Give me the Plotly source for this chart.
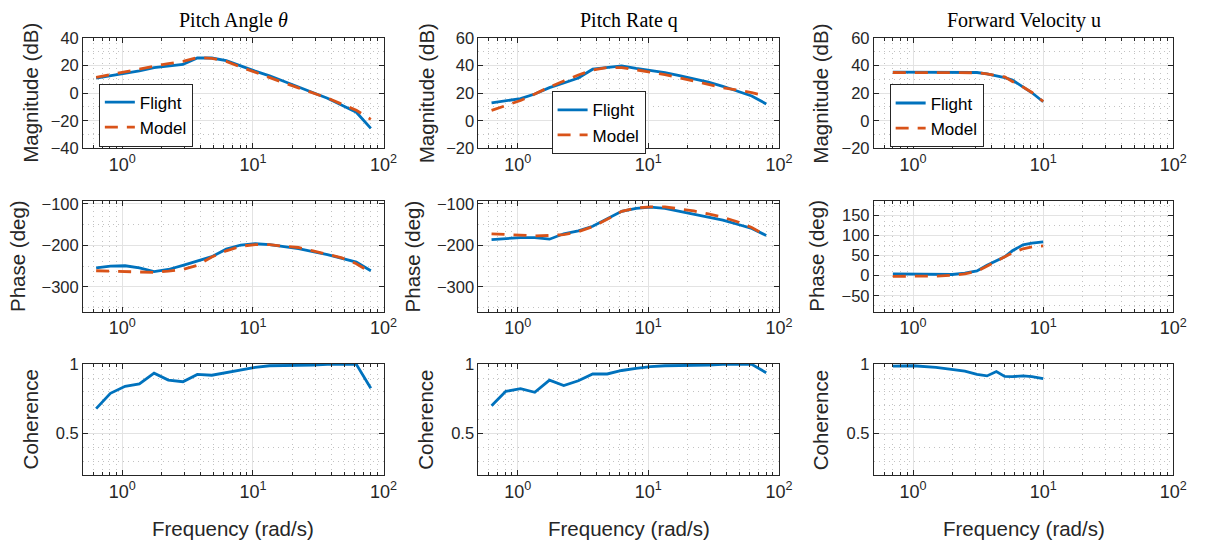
import math
import plotly.graph_objects as go
from plotly.subplots import make_subplots

# ---------------- data ----------------
freq_pitch = [0.63, 0.81, 1.05, 1.35, 1.75, 2.25, 2.91, 3.75, 4.84, 6.25,
              8.06, 10.4, 13.4, 17.3, 22.3, 28.8, 37.2, 48.0, 61.9, 79.9]

theta_mag_flight = [11.0, 12.6, 14.3, 16.1, 18.5, 19.6, 20.8, 25.5, 25.5, 23.6,
                    19.6, 16.0, 12.6, 8.6, 4.4, 0.2, -3.7, -8.7, -13.8, -25.5]
theta_mag_model = [11.5, 13.5, 15.5, 17.8, 20.0, 21.5, 23.0, 25.8, 25.3, 23.0,
                   19.0, 15.0, 11.0, 7.5, 3.8, 0.0, -3.5, -8.0, -12.4, -19.0]
theta_phase_flight = [-254, -250, -249, -254, -263, -258, -248, -238, -227, -209,
                      -199, -196, -198, -203, -208, -215, -222, -231, -240, -261]
theta_phase_model = [-261, -262, -264, -265, -265, -262, -258, -248, -228, -213,
                     -202, -198, -198, -202, -205, -213, -221, -230, -244, -265]
theta_coh = [0.68, 0.79, 0.84, 0.857, 0.935, 0.885, 0.873, 0.926, 0.92, 0.94,
             0.956, 0.977, 0.988, 0.988, 0.988, 0.993, 0.998, 0.998, 0.998, 0.827]

q_mag_flight = [12.9, 14.5, 16.1, 19.4, 24.0, 27.4, 31.0, 37.4, 38.8, 39.8,
                38.0, 36.7, 34.9, 32.7, 30.4, 28.0, 25.0, 21.3, 18.0, 12.2]
q_mag_model = [7.5, 11.0, 14.7, 19.4, 24.5, 28.8, 33.2, 36.7, 38.6, 38.6,
               37.2, 35.3, 33.5, 31.1, 28.8, 26.4, 24.0, 22.2, 20.4, 18.0]
q_phase_flight = [-186, -183, -181, -181, -185, -172, -165, -154, -135, -118,
                  -111, -108, -111, -118, -124, -131, -139, -149, -159, -176]
q_phase_model = [-172, -174, -176, -177, -176, -174, -167, -155, -137, -118,
                 -110, -107, -107, -112, -117, -124, -132, -143, -157, -176]
q_coh = [0.70, 0.804, 0.823, 0.797, 0.885, 0.846, 0.88, 0.929, 0.929, 0.954,
         0.97, 0.982, 0.988, 0.988, 0.988, 0.993, 0.998, 0.998, 0.998, 0.938]

freq_u = [0.7, 1.0, 1.5, 2.0, 2.5, 3.1, 3.7, 4.37, 5.06, 5.8, 7.0, 8.2, 10.0]
u_mag_flight = [35.3, 35.3, 35.2, 35.2, 35.1, 35.0, 34.0, 32.5, 31.3, 29.5, 24.5, 20.3, 13.8]
u_mag_model = [35.0, 35.0, 35.0, 35.0, 35.0, 34.8, 34.0, 33.0, 31.8, 28.5, 24.5, 20.5, 14.0]
u_phase_flight = [4.5, 4.5, 3.5, 3.0, 6.5, 12.0, 26.0, 38.0, 47.0, 62.0, 77.0, 81.0, 84.0]
u_phase_model = [-1.5, -1.5, -1.0, 1.0, 4.5, 11.0, 24.0, 36.0, 46.0, 57.0, 67.0, 72.0, 74.0]
u_coh = [0.986, 0.988, 0.977, 0.96, 0.95, 0.926, 0.915, 0.947, 0.912, 0.91, 0.915, 0.91, 0.896]

titles = ["Pitch Angle <i>θ</i>", "Pitch Rate q", "Forward Velocity u"]
row_labels = ["Magnitude (dB)", "Phase (deg)", "Coherence"]
x_label = "Frequency (rad/s)"
x_ticks = [1, 10, 100]
x_ticktext = ["10<sup>0</sup>", "10<sup>1</sup>", "10<sup>2</sup>"]

# ---------------- layout geometry ----------------
W, H = 1218, 555
COLS_PX = [(84, 388), (484, 788), (884, 1187)]
ROWS_PX = [(30, 144), (198, 313), (367, 482)]

BLUE = "#0072BD"
ORANGE = "#D95319"
AX = "#262626"
SANS = "Liberation Sans, Arial, sans-serif"
SERIF = "Liberation Serif, Times New Roman, serif"
LW = 2.8
DASH = "13px,9px"

fig = make_subplots(rows=3, cols=3)

columns = [
    (freq_pitch, theta_mag_flight, theta_mag_model, theta_phase_flight, theta_phase_model, theta_coh),
    (freq_pitch, q_mag_flight, q_mag_model, q_phase_flight, q_phase_model, q_coh),
    (freq_u, u_mag_flight, u_mag_model, u_phase_flight, u_phase_model, u_coh),
]
legend_names = ["legend", "legend2", "legend3"]

for c, (f, mf, mm, pf, pm, coh) in enumerate(columns, start=1):
    lg = legend_names[c - 1]
    fig.add_trace(go.Scatter(x=f, y=mf, mode="lines", name="Flight",
                             line=dict(color=BLUE, width=LW), legend=lg,
                             showlegend=True), row=1, col=c)
    fig.add_trace(go.Scatter(x=f, y=mm, mode="lines", name="Model",
                             line=dict(color=ORANGE, width=LW, dash=DASH),
                             legend=lg, showlegend=True), row=1, col=c)
    fig.add_trace(go.Scatter(x=f, y=pf, mode="lines", line=dict(color=BLUE, width=LW),
                             showlegend=False), row=2, col=c)
    fig.add_trace(go.Scatter(x=f, y=pm, mode="lines",
                             line=dict(color=ORANGE, width=LW, dash=DASH),
                             showlegend=False), row=2, col=c)
    fig.add_trace(go.Scatter(x=f, y=coh, mode="lines", line=dict(color=BLUE, width=LW),
                             showlegend=False), row=3, col=c)

minor_x = [v * m for m in (0.1, 1, 10) for v in range(2, 10) if 0.5 <= v * m < 100]

y_specs = {
    (1, 1): dict(range=[-40, 40], tickvals=[-40, -20, 0, 20, 40], minor=10),
    (1, 2): dict(range=[-20, 60], tickvals=[-20, 0, 20, 40, 60], minor=10),
    (1, 3): dict(range=[-20, 60], tickvals=[-20, 0, 20, 40, 60], minor=10),
    (2, 1): dict(range=[-360, -92], tickvals=[-300, -200, -100], minor=50),
    (2, 2): dict(range=[-360, -92], tickvals=[-300, -200, -100], minor=50),
    (2, 3): dict(range=[-90, 187], tickvals=[-50, 0, 50, 100, 150], minor=25),
    (3, 1): dict(range=[0.2, 1], tickvals=[0.5, 1], minor=0.1),
    (3, 2): dict(range=[0.2, 1], tickvals=[0.5, 1], minor=0.1),
    (3, 3): dict(range=[0.2, 1], tickvals=[0.5, 1], minor=0.1),
}

MINOR_GRID = dict(showgrid=True, gridcolor="#c2c2c2", griddash="1px,4px", gridwidth=1)

for r in range(1, 4):
    for c in range(1, 4):
        x0, x1 = COLS_PX[c - 1]
        y0, y1 = ROWS_PX[r - 1]
        spec = y_specs[(r, c)]
        fig.update_xaxes(
            type="log", range=[math.log10(0.5), 2],
            domain=[x0 / W, x1 / W],
            tickvals=x_ticks, ticktext=x_ticktext,
            ticks="inside", ticklen=5, tickcolor=AX, tickwidth=1,
            showline=True, linecolor=AX, linewidth=1, mirror="ticks",
            showgrid=True, gridcolor="#e3e3e3", gridwidth=1, zeroline=False,
            tickfont=dict(family=SANS, size=18, color=AX),
            minor=dict(tickvals=minor_x, ticks="inside", ticklen=3, tickcolor=AX, **MINOR_GRID),
            row=r, col=c,
        )
        fig.update_yaxes(
            range=spec["range"], tickvals=spec["tickvals"],
            domain=[1 - y1 / H, 1 - y0 / H],
            ticks="inside", ticklen=5, tickcolor=AX, tickwidth=1,
            showline=True, linecolor=AX, linewidth=1, mirror="ticks",
            showgrid=True, gridcolor="#e3e3e3", gridwidth=1, zeroline=False,
            tickfont=dict(family=SANS, size=16.5, color=AX),
            minor=dict(dtick=spec["minor"], tick0=0, ticks="", **MINOR_GRID),
            row=r, col=c,
        )

annotations = []
col_centers = [(a + b) / 2 for a, b in COLS_PX]
row_centers = [(a + b) / 2 for a, b in ROWS_PX]
for c, t in enumerate(titles):
    annotations.append(dict(text=t, x=col_centers[c] / W, y=1 - 12 / H, xref="paper", yref="paper",
                            xanchor="center", yanchor="middle", showarrow=False,
                            font=dict(family=SERIF, size=20, color="black")))
    annotations.append(dict(text=x_label, x=col_centers[c] / W, y=1 - 537 / H, xref="paper",
                            yref="paper", xanchor="center", yanchor="middle", showarrow=False,
                            font=dict(family=SANS, size=20.5, color=AX)))

ylabel_x = [[31, 17, 31], [431, 417, 431], [830, 826, 830]]
for c in range(3):
    for r in range(3):
        annotations.append(dict(text=row_labels[r], x=ylabel_x[c][r] / W, y=1 - row_centers[r] / H,
                                xref="paper", yref="paper", xanchor="center", yanchor="middle",
                                textangle=-90, showarrow=False,
                                font=dict(family=SANS, size=20.5, color=AX)))

legend_style = dict(bgcolor="white", bordercolor=AX, borderwidth=1,
                    font=dict(family=SANS, size=17, color="black"),
                    xanchor="left", yanchor="top", tracegroupgap=0)

fig.update_layout(
    width=W, height=H,
    margin=dict(l=0, r=0, t=0, b=0),
    paper_bgcolor="white", plot_bgcolor="white",
    annotations=annotations,
    legend=dict(x=100 / W, y=1 - 77 / H, **legend_style),
    legend2=dict(x=558 / W, y=1 - 85 / H, **legend_style),
    legend3=dict(x=900 / W, y=1 - 78 / H, **legend_style),
)

fig.write_html("out.html")
